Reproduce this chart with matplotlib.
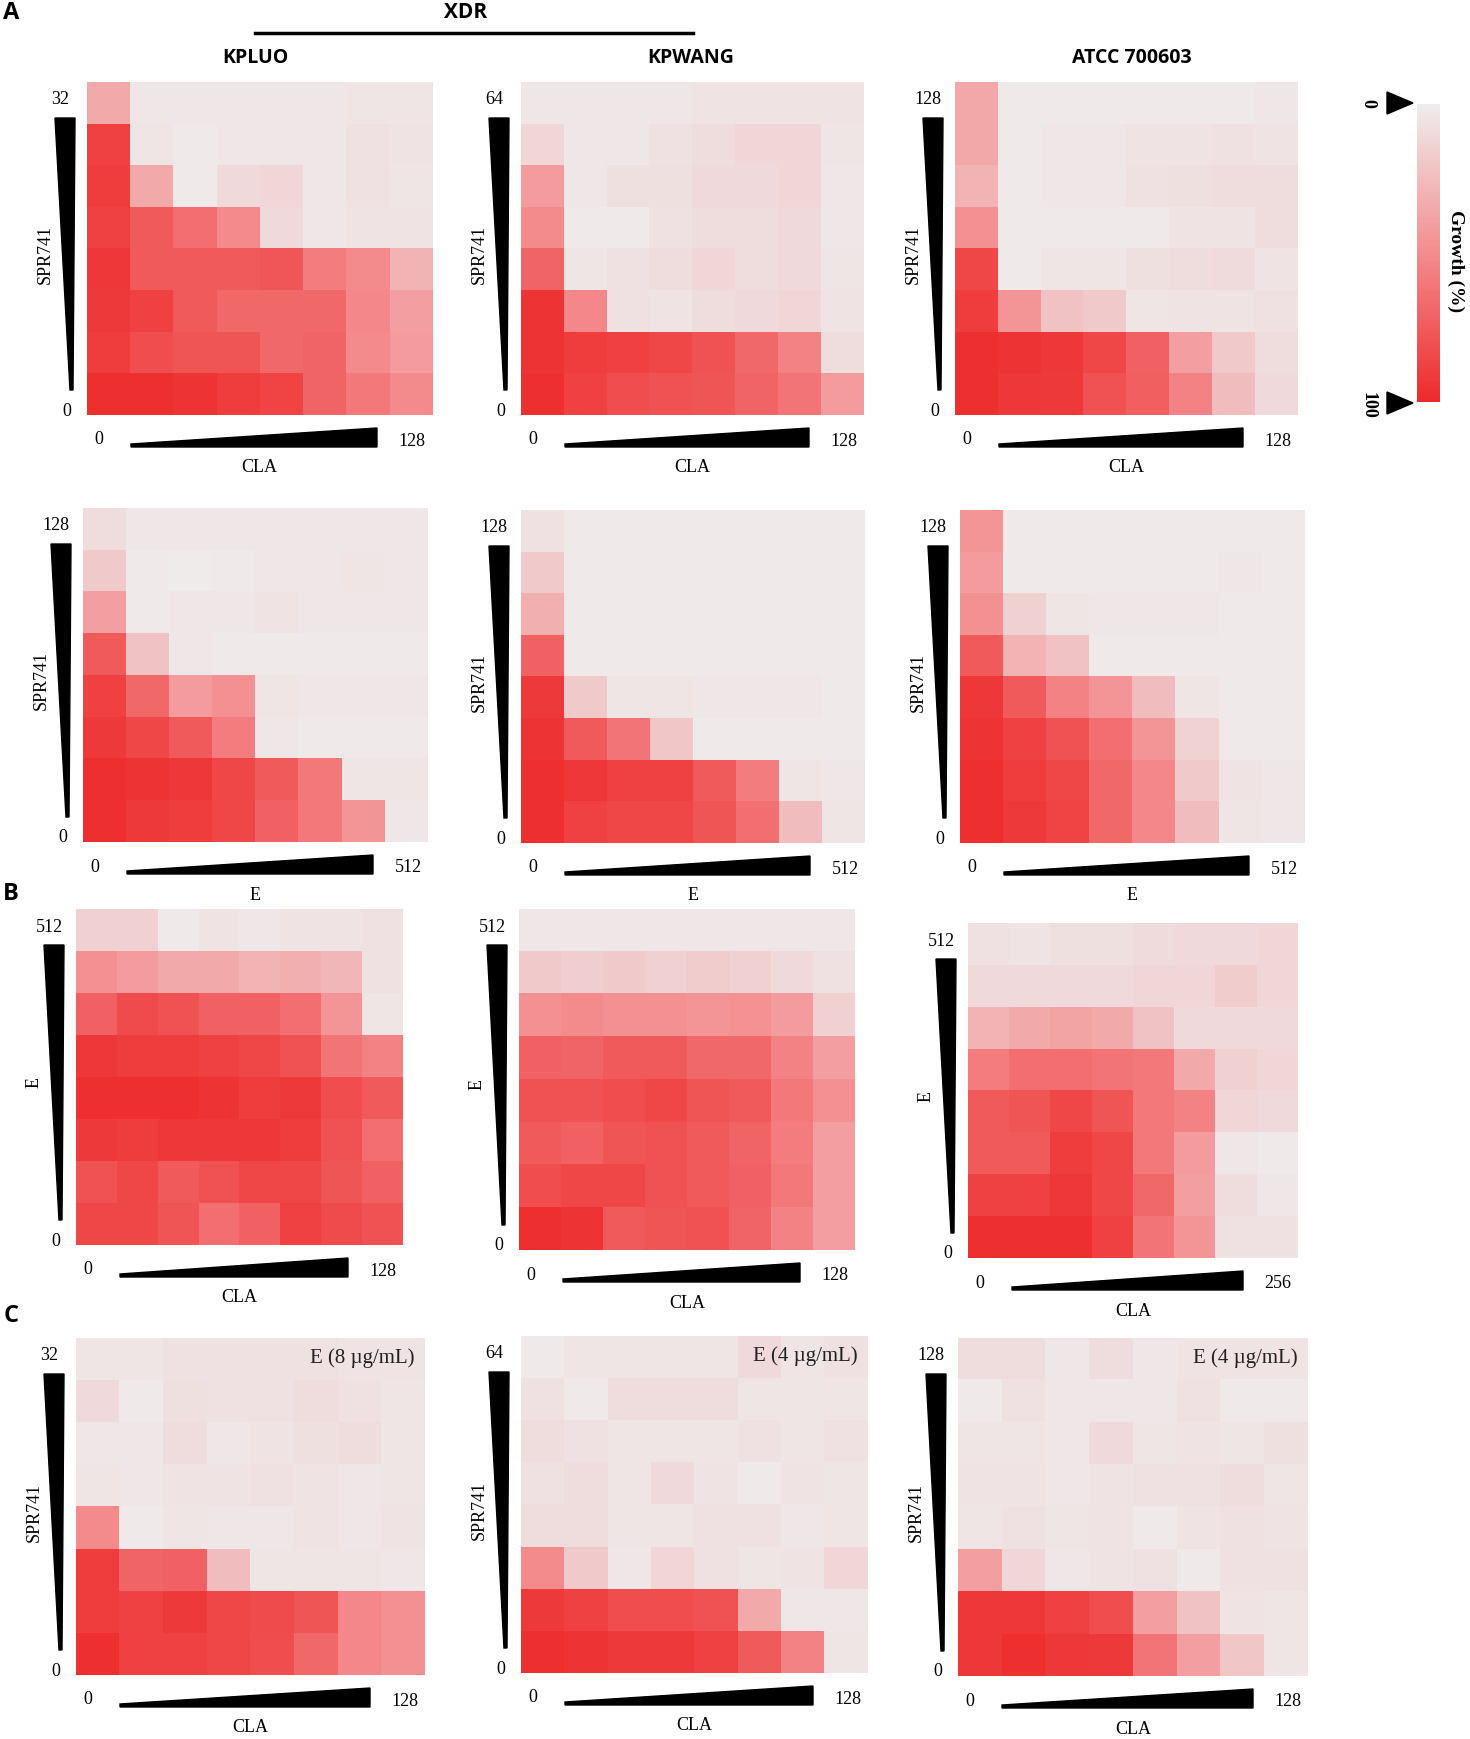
import numpy as np
import matplotlib.pyplot as plt
from matplotlib.colors import LinearSegmentedColormap, Normalize
from matplotlib.cm import ScalarMappable
from matplotlib.patches import Polygon

# growth (%) values, top row = highest concentration of the y-axis drug
spr_cla_kpluo = [[35, 3, 3, 3, 3, 3, 4, 4],
                 [88, 4, 2, 3, 3, 3, 6, 5],
                 [90, 35, 2, 10, 12, 3, 6, 4],
                 [88, 75, 65, 50, 10, 3, 5, 5],
                 [93, 75, 75, 75, 77, 58, 50, 30],
                 [92, 88, 75, 68, 68, 68, 52, 40],
                 [90, 82, 78, 78, 68, 70, 50, 42],
                 [97, 97, 95, 90, 87, 70, 60, 50]]
spr_cla_kpwang = [[3, 3, 3, 3, 5, 5, 5, 5],
                  [12, 3, 3, 6, 8, 12, 12, 4],
                  [42, 3, 7, 7, 10, 10, 12, 3],
                  [50, 2, 2, 6, 8, 8, 10, 3],
                  [70, 4, 6, 8, 12, 8, 10, 4],
                  [95, 52, 6, 5, 8, 10, 12, 5],
                  [95, 90, 88, 85, 80, 68, 55, 8],
                  [97, 88, 82, 80, 78, 70, 62, 42]]
spr_cla_atcc = [[36, 2, 2, 2, 2, 2, 2, 3],
                [36, 2, 3, 3, 5, 5, 6, 5],
                [30, 2, 3, 3, 6, 7, 8, 8],
                [48, 2, 2, 2, 2, 5, 5, 8],
                [85, 2, 4, 4, 7, 8, 9, 5],
                [90, 45, 22, 18, 4, 5, 5, 6],
                [97, 95, 93, 85, 72, 40, 18, 8],
                [97, 93, 92, 80, 73, 55, 25, 10]]
spr_e_kpluo = [[8, 3, 3, 3, 3, 3, 3, 3],
               [18, 2, 1, 2, 3, 3, 4, 3],
               [40, 2, 3, 3, 5, 3, 3, 3],
               [75, 22, 3, 2, 2, 2, 2, 2],
               [88, 68, 42, 48, 4, 3, 3, 3],
               [92, 85, 75, 58, 3, 2, 2, 2],
               [97, 95, 93, 85, 75, 60, 4, 4],
               [97, 92, 90, 85, 72, 60, 45, 3]]
spr_e_kpwang = [[6, 2, 2, 2, 2, 2, 2, 2],
                [18, 2, 2, 2, 2, 2, 2, 2],
                [32, 2, 2, 2, 2, 2, 2, 2],
                [72, 2, 2, 2, 2, 2, 2, 2],
                [92, 18, 4, 4, 3, 3, 3, 2],
                [95, 75, 62, 20, 2, 2, 2, 2],
                [97, 93, 88, 88, 75, 58, 4, 3],
                [97, 88, 85, 85, 78, 65, 25, 4]]
spr_e_atcc = [[45, 2, 2, 2, 2, 2, 2, 2],
              [42, 2, 2, 2, 2, 2, 3, 2],
              [48, 15, 4, 3, 3, 3, 2, 2],
              [75, 30, 22, 2, 2, 2, 2, 2],
              [93, 75, 55, 45, 25, 4, 2, 2],
              [95, 88, 80, 65, 45, 14, 2, 2],
              [97, 90, 85, 68, 52, 18, 5, 3],
              [97, 92, 87, 68, 52, 25, 4, 3]]
e_cla_kpluo = [[15, 15, 2, 5, 3, 5, 5, 6],
               [48, 42, 35, 35, 30, 32, 28, 6],
               [72, 83, 80, 72, 72, 65, 45, 4],
               [93, 90, 90, 88, 85, 80, 62, 55],
               [97, 97, 97, 95, 90, 92, 82, 75],
               [92, 90, 93, 93, 93, 90, 80, 65],
               [80, 85, 75, 80, 85, 85, 78, 72],
               [85, 85, 78, 65, 72, 88, 83, 80]]
e_cla_kpwang = [[3, 3, 3, 3, 3, 3, 3, 3],
                [18, 16, 18, 15, 17, 15, 10, 6],
                [48, 50, 48, 48, 45, 47, 42, 15],
                [72, 70, 75, 75, 68, 68, 55, 40],
                [80, 80, 82, 85, 78, 75, 60, 48],
                [75, 72, 78, 80, 75, 70, 58, 40],
                [82, 85, 85, 80, 75, 72, 60, 40],
                [97, 95, 75, 78, 80, 70, 55, 40]]
e_cla_atcc = [[6, 5, 7, 7, 9, 10, 10, 12],
              [10, 10, 10, 10, 12, 12, 17, 12],
              [30, 35, 38, 35, 22, 10, 10, 10],
              [58, 65, 65, 62, 60, 35, 15, 12],
              [75, 78, 85, 78, 60, 55, 12, 10],
              [75, 75, 90, 85, 60, 42, 3, 2],
              [88, 88, 93, 85, 68, 40, 8, 3],
              [97, 97, 97, 88, 62, 45, 6, 6]]
triple_kpluo = [[4, 4, 6, 6, 6, 6, 5, 5],
                [10, 2, 7, 6, 6, 8, 6, 4],
                [3, 3, 8, 3, 5, 7, 8, 4],
                [4, 3, 5, 5, 6, 5, 3, 4],
                [50, 2, 4, 3, 3, 5, 3, 5],
                [90, 70, 72, 25, 4, 4, 4, 3],
                [90, 88, 92, 85, 83, 78, 52, 48],
                [97, 88, 88, 85, 82, 68, 52, 48]]
triple_kpwang = [[2, 4, 4, 4, 4, 10, 4, 6],
                 [6, 2, 8, 8, 8, 4, 4, 4],
                 [8, 6, 4, 4, 4, 6, 4, 6],
                 [6, 8, 4, 10, 5, 2, 5, 4],
                 [8, 8, 4, 4, 6, 6, 3, 4],
                 [50, 18, 3, 12, 6, 4, 5, 12],
                 [92, 88, 82, 82, 80, 35, 3, 3],
                 [97, 95, 92, 92, 88, 75, 55, 4]]
triple_atcc = [[8, 8, 3, 8, 3, 5, 5, 5],
               [2, 6, 3, 3, 3, 6, 2, 2],
               [4, 4, 3, 10, 4, 5, 4, 7],
               [5, 5, 3, 5, 6, 6, 8, 4],
               [4, 6, 4, 5, 2, 5, 6, 5],
               [40, 12, 3, 5, 6, 2, 6, 6],
               [93, 93, 88, 82, 40, 22, 5, 4],
               [93, 97, 93, 92, 62, 40, 20, 4]]

strains = ['KPLUO', 'KPWANG', 'ATCC 700603']
y_max_a = ['32', '64', '128']
y_max_c = ['32', '64', '128']
x_max_b = ['128', '128', '256']
e_fixed = ['E (8 µg/mL)', 'E (4 µg/mL)', 'E (4 µg/mL)']

W, H = 1470, 1739
cmap = LinearSegmentedColormap.from_list(
    'growth', [(0, '#EFEDED'), (0.5, '#F48C8E'), (1, '#EE2A2B')])
serif = ['Liberation Serif', 'DejaVu Serif']
sans = ['Open Sans', 'DejaVu Sans']
plt.rcParams['font.family'] = serif

fig = plt.figure(figsize=(W / 100, H / 100), dpi=100)
ov = fig.add_axes([0, 0, 1, 1])
ov.set_xlim(0, W)
ov.set_ylim(H, 0)
ov.axis('off')


def panel(box, data, ylab, ytop, xlab, xright, inset=None):
    x0, y0, x1, y1 = box
    ax = fig.add_axes([x0 / W, 1 - y1 / H, (x1 - x0) / W, (y1 - y0) / H])
    ax.imshow(np.array(data), cmap=cmap, vmin=0, vmax=100, aspect='auto',
              interpolation='nearest')
    ax.axis('off')
    if inset:
        ax.text(0.97, 0.94, inset, transform=ax.transAxes, ha='right', va='center',
                fontsize=15, color='#222222')
    # vertical wedge
    yt, yb = y0 + 36, y1 - 25
    ov.add_patch(Polygon([(x0 - 32, yt), (x0 - 12, yt), (x0 - 14, yb), (x0 - 17, yb)],
                         closed=True, color='black'))
    ov.text(x0 - 27, y0 + 18, ytop, ha='center', va='center', fontsize=13)
    ov.text(x0 - 20, y1 - 4, '0', ha='center', va='center', fontsize=13)
    ov.text(x0 - 42, (yt + yb) / 2, ylab, ha='center', va='center', rotation=90, fontsize=13)
    # horizontal wedge
    xl, xr, hb = x0 + 44, x1 - 55, y1 + 32
    ov.add_patch(Polygon([(xl, hb), (xr, hb), (xr, hb - 19), (xl, hb - 3)],
                         closed=True, color='black'))
    ov.text(x0 + 12, y1 + 25, '0', ha='center', va='center', fontsize=13)
    ov.text(x1 - 20, y1 + 26, xright, ha='center', va='center', fontsize=13)
    ov.text((x0 + x1) / 2, y1 + 53, xlab, ha='center', va='center', fontsize=13)


row_a = [(87, 82, 432, 415), (521, 82, 864, 415), (955, 82, 1298, 415)]
row_a2 = [(83, 508, 428, 842), (521, 510, 865, 843), (960, 510, 1304, 843)]
row_b = [(76, 909, 403, 1245), (519, 909, 855, 1250), (968, 923, 1298, 1258)]
row_c = [(76, 1338, 425, 1675), (521, 1336, 868, 1673), (958, 1338, 1308, 1676)]

for i, d in enumerate([spr_cla_kpluo, spr_cla_kpwang, spr_cla_atcc]):
    panel(row_a[i], d, 'SPR741', y_max_a[i], 'CLA', '128')
for i, d in enumerate([spr_e_kpluo, spr_e_kpwang, spr_e_atcc]):
    panel(row_a2[i], d, 'SPR741', '128', 'E', '512')
for i, d in enumerate([e_cla_kpluo, e_cla_kpwang, e_cla_atcc]):
    panel(row_b[i], d, 'E', '512', 'CLA', x_max_b[i])
for i, d in enumerate([triple_kpluo, triple_kpwang, triple_atcc]):
    panel(row_c[i], d, 'SPR741', y_max_c[i], 'CLA', '128', inset=e_fixed[i])

# headers
ov.text(466, 13, 'XDR', ha='center', va='center', fontsize=15, fontweight='bold', family=sans)
ov.plot([255, 693], [33, 33], color='black', lw=2.5)
for x, s in zip([255, 691, 1132], strains):
    ov.text(x, 58, s, ha='center', va='center', fontsize=14, fontweight='bold', family=sans)
for y, s in zip([13, 894, 1316], ['A', 'B', 'C']):
    ov.text(11, y, s, ha='center', va='center', fontsize=17, fontweight='bold', family=sans)

# colorbar
cax = fig.add_axes([1417 / W, 1 - 402 / H, 23 / W, 298 / H])
cb = fig.colorbar(ScalarMappable(norm=Normalize(0, 100), cmap=cmap), cax=cax)
cb.set_ticks([])
cb.outline.set_visible(False)
cax.invert_yaxis()
ov.add_patch(Polygon([(1387, 92), (1387, 114), (1413, 103)], closed=True, color='black'))
ov.add_patch(Polygon([(1387, 392), (1387, 414), (1413, 403)], closed=True, color='black'))
ov.text(1368, 103, '0', ha='center', va='center', rotation=-90, fontsize=13, fontweight='bold')
ov.text(1368, 405, '100', ha='center', va='center', rotation=-90, fontsize=13, fontweight='bold')
ov.text(1456, 261, 'Growth (%)', ha='center', va='center', rotation=-90, fontsize=14,
        fontweight='bold')

fig.savefig('out.png', dpi=100)
